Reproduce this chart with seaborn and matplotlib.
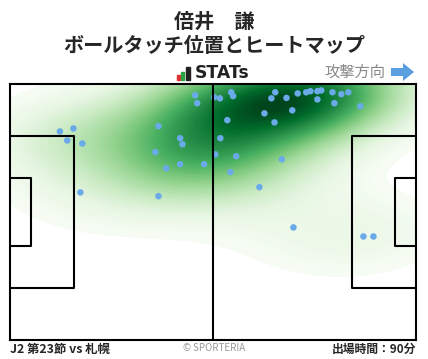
import numpy as np
import pandas as pd
import matplotlib
matplotlib.use("Agg")
import matplotlib.pyplot as plt
import seaborn as sns
from matplotlib.patches import Rectangle, FancyArrow

# ball touch positions (pitch metres, 105 x 68, attacking to the right)
touch_x = [47.9, 48.4, 12.9, 16.4, 14.8, 18.7, 38.4, 44.0, 44.6, 37.6,
           40.4, 44.0, 50.2, 18.2, 38.4, 52.8, 54.3, 57.2, 57.7, 68.6,
           67.6, 71.5, 74.4, 76.6, 77.7, 79.5, 80.5, 79.5, 83.4, 85.7,
           87.5, 83.9, 90.6, 73.0, 65.8, 68.4, 56.2, 54.4, 53.1, 58.5,
           57.0, 70.3, 64.5, 73.3, 91.4, 94.0]
touch_y = [65.0, 62.9, 55.4, 56.2, 53.0, 52.2, 56.8, 53.6, 52.0, 49.9,
           45.6, 46.7, 46.7, 39.2, 38.2, 64.5, 64.2, 65.8, 64.8, 65.8,
           64.2, 64.3, 65.5, 65.8, 66.1, 66.1, 66.3, 63.9, 65.8, 65.3,
           65.8, 62.9, 62.1, 61.0, 60.2, 57.8, 58.4, 53.6, 49.3, 48.8,
           44.6, 48.0, 40.6, 29.9, 27.5, 27.5]

player = "倍井　謙"
subtitle = "ボールタッチ位置とヒートマップ"
match_label = "J2 第23節 vs 札幌"
minutes_label = "出場時間：90分"

sns.set_style("white")
plt.rcParams['font.family'] = ['Noto Sans CJK JP', 'DejaVu Sans']

fig = plt.figure(figsize=(4.28, 3.59), dpi=100)
ax = fig.add_axes([10/428, 19/359, 406/428, 256/359])

df = pd.DataFrame({'x': touch_x, 'y': touch_y})
sns.kdeplot(data=df, x='x', y='y', fill=True, cmap='Greens', levels=80,
            thresh=0.02, bw_adjust=1.4, clip=((0, 105), (0, 68)), ax=ax, zorder=1)
sns.scatterplot(data=df, x='x', y='y', color='#6aaae8', s=22,
                edgecolor='none', ax=ax, zorder=3)

# pitch markings
lc = dict(color='black', lw=1.5, zorder=4, solid_capstyle='butt')
ax.plot([52.5, 52.5], [0, 68], **lc)
for gx, sgn in [(0, 1), (105, -1)]:
    ax.plot([gx, gx + sgn*16.5, gx + sgn*16.5, gx], [13.84, 13.84, 54.16, 54.16], **lc)
    ax.plot([gx, gx + sgn*5.5, gx + sgn*5.5, gx], [24.84, 24.84, 43.16, 43.16], **lc)

ax.set_xlim(0, 105)
ax.set_ylim(0, 68)
ax.set_xticks([])
ax.set_yticks([])
ax.set_xlabel('')
ax.set_ylabel('')
for s in ax.spines.values():
    s.set_color('black')
    s.set_linewidth(1.5)
    s.set_zorder(5)

# titles
fig.text(0.5, 1 - 21/359, player, ha='center', va='center', fontsize=14.5, fontweight='bold')
fig.text(0.5, 1 - 46/359, subtitle, ha='center', va='center', fontsize=14.5, fontweight='bold')

# STATs logo
for x0, w, h, c in [(177, 3, 5, '#e03030'), (181, 3, 8, '#2aa040'), (185.5, 4, 13, '#222222')]:
    fig.patches.append(Rectangle((x0/428, 1 - 80/359), w/428, h/359,
                                 transform=fig.transFigure, color=c))
fig.text(195/428, 1 - 73.5/359, "STATs", ha='left', va='center', fontsize=12.4,
         fontweight='bold', family=['DejaVu Sans'], color='#222222')

# attack direction
fig.text(385/428, 1 - 72/359, "攻撃方向", ha='right', va='center', fontsize=11, color='#888888')
fig.patches.append(FancyArrow(391/428, 1 - 72/359, 12/428, 0, width=8/359,
                              head_width=18/359, head_length=11/428,
                              length_includes_head=False, transform=fig.transFigure,
                              color='#5aa0e0', lw=0))

# footer
fig.text(10/428, 1 - 349/359, match_label, ha='left', va='center', fontsize=8.9, fontweight='bold')
fig.text(0.5, 1 - 348/359, "© SPORTERIA", ha='center', va='center', fontsize=7, color='#999999')
fig.text(416/428, 1 - 349/359, minutes_label, ha='right', va='center', fontsize=8.5, fontweight='bold')

fig.savefig('out.png', dpi=100)
